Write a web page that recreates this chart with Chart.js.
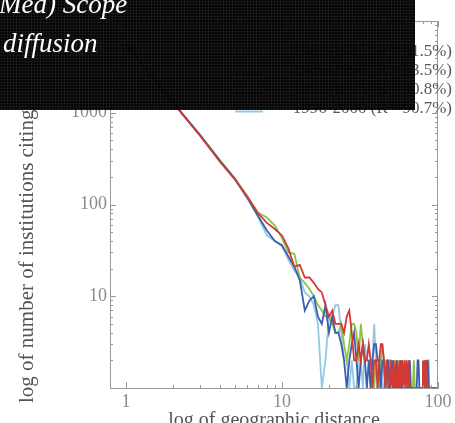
<!DOCTYPE html>
<html><head><meta charset="utf-8">
<script src="https://cdn.jsdelivr.net/npm/chart.js@4.4.1/dist/chart.umd.min.js"></script>
<style>html,body{margin:0;padding:0;background:#fff;overflow:hidden}canvas{display:block}</style>
</head><body>
<canvas id="c" width="455" height="423"></canvas>
<script>
// geographic distance (x) categories
const distances = [1,2,3,4,5,6,7,8,9,10,11,12,13,14,15,16,17,18,19,20,21,22,23,24,25,26,27,28,29,30,31,32,33,34,35,36,37,38,39,40,41,42,43,44,45,46,47,48,49,50,51,52,53,54,55,56,57,58,59,60,61,62,63,64,65,66,67,68,69,70,71,72,73,74,75,76,77,78,79,80,81,82,83,84,85,86,87,88,89,90,91,92,93,94,95,96,97,98,99,100];

const seriesLabels = ["1981-1985 (R\u00B2=91.5%)", "1986-1990 (R\u00B2=93.5%)", "1991-1995 (R\u00B2=90.8%)", "1996-2000 (R\u00B2=90.7%)"];
const seriesColors = ["#d23a36", "#3b5fae", "#8dc540", "#92c8e6"];

const redValues = [5600,1280,555,292,186,121,81,63,54,46, 33,21,22,16,16,14,12,11,8,6, 7,5,5,5,4,6,7,4,2,2, 3,2,3,2,2,3,2,1,2,2, 1,2,3,3,2,1,2,1,1,2, 1,2,1,1,2,1,2,1,2,1, 2,1,2,1,2,1,1,1,1,1, 1,1,1,1,1,1,1,1,1,2, 1,2,1,2,2,1,1,1,1,1, 1,1,1,1,1,1,1,1,1,1];
const blueValues = [5500,1300,565,300,190,118,76,52,40,36, 27,21,15,7,9,10,6,5,8,4, 6,4,4,3,2,1,2,3,4,2, 1,2,3,2,1,2,1,2,3,3, 2,2,1,2,2,1,2,2,1,1, 2,1,1,2,1,1,1,2,1,1, 1,1,1,1,1,2,1,1,1,1, 1,1,1,2,2,1,1,1,1,1, 1,1,2,1,1,2,1,1,1,1, 1,1,1,1,1,1,1,1,1,1];
const greenValues = [5600,1300,570,305,192,124,82,72,59,43, 30,29,16,14,12,10,8,7,6,6, 5,4,4,5,3,2,3,5,5,4, 2,5,3,2,2,2,2,2,1,2, 2,1,2,3,2,1,2,1,2,2, 1,2,1,1,2,1,1,2,1,1, 2,1,1,1,1,1,1,1,1,2, 1,1,1,1,1,1,1,1,1,1, 1,1,1,1,2,2,2,1,1,1, 1,1,1,1,1,1,1,1,1,1];
const lightBlueValues = [5500,1290,560,298,188,117,74,46,40,35, 25,19,16,11,10,8,5,1,2,6, 6,8,8,4,2,2,1,2,1,1, 2,2,1,3,2,2,1,2,5,2, 1,1,2,1,1,2,1,1,1,1, 1,1,1,1,1,1,1,1,1,1, 1,1,1,1,1,1,1,1,1,1, 1,1,1,1,1,1,1,1,1,1, 1,1,1,2,1,1,1,1,1,1, 1,1,1,1,1,1,1,1,1,1];

const xTickValues = [1,2,3,4,5,6,7,8,9,10,20,30,40,50,60,70,80,90,100];
const yTickValues = [1,2,3,4,5,6,7,8,9,10,20,30,40,50,60,70,80,90,100,200,300,400,500,600,700,800,900,1000,2000,3000,4000,5000,6000,7000,8000,9000,10000];
const xTickLabels = {1:"1", 10:"10", 100:"100"};
const yTickLabels = {10:"10", 100:"100", 1000:"1000"};

const titleLines = ["(Med) Scope", "diffusion"];
const xTitle = "log of geographic distance";
const yTitle = "log of number of institutions citing";

const allValues = [redValues, blueValues, greenValues, lightBlueValues];
const datasets = allValues.map((vals, k) => ({
  label: seriesLabels[k],
  data: distances.map((d, i) => ({x: d, y: vals[i]})),
  borderColor: seriesColors[k],
  backgroundColor: seriesColors[k],
  borderWidth: 1.8,
  pointRadius: 0,
  tension: 0,
  fill: false
}));

const SERIF = "'Liberation Serif', 'DejaVu Serif', serif";
const isPow10 = v => Math.abs(Math.log10(v) - Math.round(Math.log10(v))) < 1e-9;

const overlayPlugin = {
  id: 'overlay',
  afterDraw(chart) {
    const ctx = chart.ctx;
    const a = chart.chartArea;
    const xs = chart.scales.x, ys = chart.scales.y;
    ctx.save();
    // frame (top and right)
    ctx.strokeStyle = '#9a9a9a';
    ctx.lineWidth = 1;
    ctx.beginPath();
    ctx.moveTo(a.left, a.top + 0.5); ctx.lineTo(a.right, a.top + 0.5);
    ctx.moveTo(a.right - 0.5, a.top); ctx.lineTo(a.right - 0.5, a.bottom);
    ctx.stroke();
    // inward ticks
    ctx.beginPath();
    xTickValues.forEach(v => {
      if (v < xs.min || v > xs.max) return;
      const px = Math.round(xs.getPixelForValue(v)) + 0.5;
      const L = isPow10(v) ? 6 : 3;
      ctx.moveTo(px, a.bottom); ctx.lineTo(px, a.bottom - L);
      ctx.moveTo(px, a.top); ctx.lineTo(px, a.top + L);
    });
    yTickValues.forEach(v => {
      if (v < ys.min || v > ys.max) return;
      const py = Math.round(ys.getPixelForValue(v)) + 0.5;
      const L = isPow10(v) ? 6 : 3;
      ctx.moveTo(a.left, py); ctx.lineTo(a.left + L, py);
      ctx.moveTo(a.right, py); ctx.lineTo(a.right - L, py);
    });
    ctx.stroke();

    // legend
    const rowBase = [55.5, 74.5, 93.5, 112.5];
    ctx.font = "17px " + SERIF;
    ctx.textAlign = 'right';
    ctx.textBaseline = 'alphabetic';
    datasets.forEach((ds, k) => {
      ctx.strokeStyle = ds.borderColor;
      ctx.lineWidth = 2;
      ctx.beginPath();
      ctx.moveTo(235, rowBase[k] - 1); ctx.lineTo(263, rowBase[k] - 1);
      ctx.stroke();
      ctx.fillStyle = '#5a5a5a';
      ctx.fillText(ds.label, 452, rowBase[k]);
    });

    // y-axis title
    ctx.save();
    ctx.translate(33, 403);
    ctx.rotate(-Math.PI / 2);
    ctx.textAlign = 'left';
    ctx.textBaseline = 'alphabetic';
    ctx.font = "21px " + SERIF;
    ctx.fillStyle = '#555';
    ctx.fillText(yTitle, 0, 0);
    ctx.restore();

    // dark title box
    ctx.fillStyle = 'rgba(0,0,0,0.975)';
    ctx.fillRect(0, 0, 415, 110);
    ctx.fillStyle = 'rgba(255,255,255,0.05)';
    for (let x = 1; x < 415; x += 3) ctx.fillRect(x, 0, 1, 110);
    for (let y = 1; y < 110; y += 3) ctx.fillRect(0, y, 415, 1);
    ctx.fillStyle = '#ffffff';
    ctx.textAlign = 'left';
    ctx.font = "italic 27px " + SERIF;
    ctx.fillText(titleLines[0], -10, 13);
    ctx.fillText(titleLines[1], 3, 52);
    ctx.restore();
  }
};

new Chart(document.getElementById('c'), {
  type: 'line',
  data: { datasets },
  options: {
    responsive: false,
    animation: false,
    devicePixelRatio: 1,
    layout: { padding: { top: 21, right: 17, left: 0, bottom: 0 } },
    plugins: { legend: { display: false }, tooltip: { enabled: false } },
    scales: {
      x: {
        type: 'logarithmic',
        min: 0.79, max: 100,
        afterBuildTicks: s => { s.ticks = xTickValues.map(v => ({ value: v })); },
        afterFit: s => { s.height = 35; },
        ticks: {
          autoSkip: false, maxRotation: 0, padding: 3,
          color: '#8a8a8a', font: { family: SERIF, size: 18 },
          callback: v => xTickLabels[v] || ''
        },
        grid: { display: true, drawOnChartArea: false, drawTicks: false },
        border: { display: true, color: '#9a9a9a', width: 1 },
        title: {
          display: true, text: xTitle, color: '#555',
          font: { family: SERIF, size: 20, lineHeight: 0.6 },
          padding: { top: 0, bottom: -4 }
        }
      },
      y: {
        type: 'logarithmic',
        min: 1, max: 10000,
        afterBuildTicks: s => { s.ticks = yTickValues.map(v => ({ value: v })); },
        afterFit: s => { s.width = 110; },
        ticks: {
          autoSkip: false, padding: 3,
          color: '#8a8a8a', font: { family: SERIF, size: 18 },
          callback: v => yTickLabels[v] || ''
        },
        grid: { display: true, drawOnChartArea: false, drawTicks: false },
        border: { display: true, color: '#9a9a9a', width: 1 }
      }
    }
  },
  plugins: [overlayPlugin]
});
</script>
</body></html>
